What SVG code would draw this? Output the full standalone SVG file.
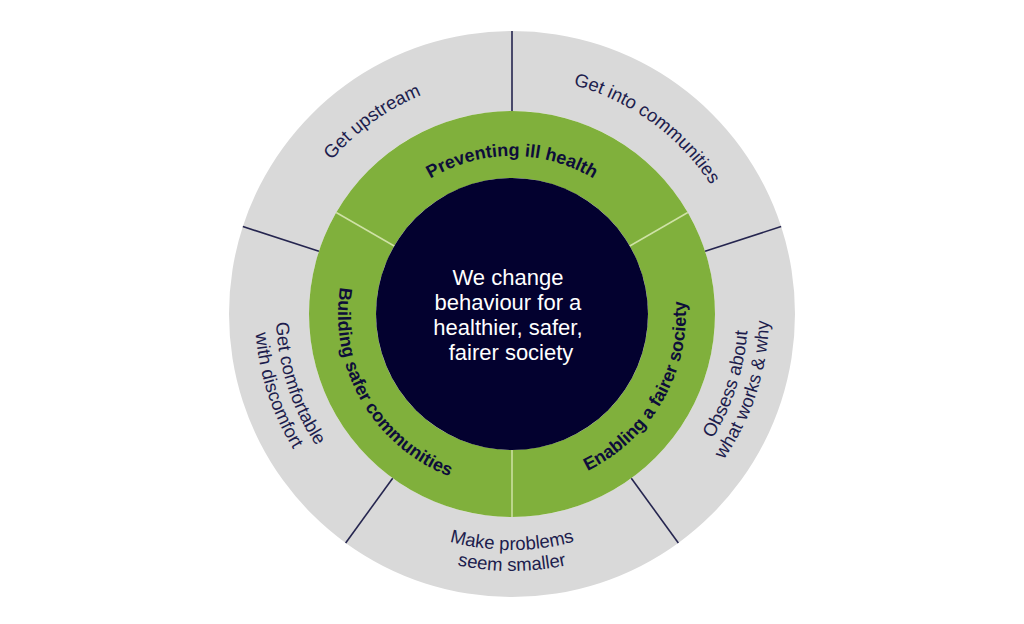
<svg xmlns="http://www.w3.org/2000/svg" xmlns:xlink="http://www.w3.org/1999/xlink" width="1024" height="624" viewBox="0 0 1024 624">
  <style>
    .outer { fill: #d9d9d9; }
    .green { fill: #80b03c; }
    .core { fill: #03012f; }
    .div-outer { stroke: #25254f; stroke-width: 1.6; fill: none; }
    .div-green { stroke: #cfe2a6; stroke-width: 1.5; fill: none; }
    .lbl-outer { font-family: "Liberation Sans", Arial, sans-serif; font-size: 18.5px; fill: #1d1d4d; }
    .lbl-green { font-family: "Liberation Sans", Arial, sans-serif; font-size: 18px; font-weight: bold; fill: #0d0d3a; }
    .lbl-core { font-family: "Liberation Sans", Arial, sans-serif; font-size: 22px; fill: #ffffff; text-anchor: middle; }
  </style>
  <defs>
    <path id="p-upstream" d="M276.30,338.77 A237,237 0 0 1 608.40,97.49"/>
    <path id="p-into" d="M415.60,97.49 A237,237 0 0 1 747.70,338.77"/>
    <path id="p-comf1" d="M336.62,156.09 A236,236 0 0 0 462.93,544.84"/>
    <path id="p-comf2" d="M321.01,142.03 A257,257 0 0 0 458.57,565.38"/>
    <path id="p-prob1" d="M307.62,432 A236,236 0 0 0 716.38,432"/>
    <path id="p-prob2" d="M289.43,442.5 A257,257 0 0 0 734.57,442.5"/>
    <path id="p-obs1" d="M561.07,544.84 A236,236 0 0 0 687.38,156.09"/>
    <path id="p-obs2" d="M565.43,565.38 A257,257 0 0 0 702.99,142.03"/>
    <path id="p-prev" d="M375.17,235 A158,158 0 0 1 648.83,235"/>
    <path id="p-build" d="M361.31,227 A174,174 0 0 0 512,488"/>
    <path id="p-enab" d="M512,488 A174,174 0 0 0 662.69,227"/>
  </defs>

  <g id="outer-get-upstream">
    <path class="outer" d="M512,31 A283,283 0 0 0 242.85,226.55 L318.93,251.27 A203,203 0 0 1 512,111 Z"/>
    <text class="lbl-outer"><textPath xlink:href="#p-upstream" startOffset="50%" text-anchor="middle">Get upstream</textPath></text>
  </g>
  <g id="outer-get-into-communities">
    <path class="outer" d="M781.15,226.55 A283,283 0 0 0 512,31 L512,111 A203,203 0 0 1 705.07,251.27 Z"/>
    <text class="lbl-outer"><textPath xlink:href="#p-into" startOffset="50%" text-anchor="middle">Get into communities</textPath></text>
  </g>
  <g id="outer-get-comfortable">
    <path class="outer" d="M242.85,226.55 A283,283 0 0 0 345.66,542.95 L392.68,478.23 A203,203 0 0 1 318.93,251.27 Z"/>
    <text class="lbl-outer"><textPath xlink:href="#p-comf1" startOffset="50%" text-anchor="middle">Get comfortable</textPath></text>
    <text class="lbl-outer"><textPath xlink:href="#p-comf2" startOffset="50%" text-anchor="middle">with discomfort</textPath></text>
  </g>
  <g id="outer-make-problems-smaller">
    <path class="outer" d="M345.66,542.95 A283,283 0 0 0 678.34,542.95 L631.32,478.23 A203,203 0 0 1 392.68,478.23 Z"/>
    <text class="lbl-outer"><textPath xlink:href="#p-prob1" startOffset="50%" text-anchor="middle">Make problems</textPath></text>
    <text class="lbl-outer"><textPath xlink:href="#p-prob2" startOffset="50%" text-anchor="middle">seem smaller</textPath></text>
  </g>
  <g id="outer-obsess">
    <path class="outer" d="M678.34,542.95 A283,283 0 0 0 781.15,226.55 L705.07,251.27 A203,203 0 0 1 631.32,478.23 Z"/>
    <text class="lbl-outer"><textPath xlink:href="#p-obs1" startOffset="50%" text-anchor="middle">Obsess about</textPath></text>
    <text class="lbl-outer"><textPath xlink:href="#p-obs2" startOffset="50%" text-anchor="middle">what works &amp; why</textPath></text>
  </g>

  <g id="green-preventing-ill-health">
    <path class="green" d="M687.80,212.5 A203,203 0 0 0 336.20,212.5 L394.22,246 A136,136 0 0 1 629.78,246 Z"/>
    <text class="lbl-green"><textPath xlink:href="#p-prev" startOffset="50%" text-anchor="middle">Preventing ill health</textPath></text>
  </g>
  <g id="green-building-safer-communities">
    <path class="green" d="M336.20,212.5 A203,203 0 0 0 512,517 L512,450 A136,136 0 0 1 394.22,246 Z"/>
    <text class="lbl-green"><textPath xlink:href="#p-build" startOffset="50%" text-anchor="middle">Building safer communities</textPath></text>
  </g>
  <g id="green-enabling-fairer-society">
    <path class="green" d="M512,517 A203,203 0 0 0 687.80,212.5 L629.78,246 A136,136 0 0 1 512,450 Z"/>
    <text class="lbl-green"><textPath xlink:href="#p-enab" startOffset="50%" text-anchor="middle">Enabling a fairer society</textPath></text>
  </g>

  <g id="core">
    <circle class="core" cx="512" cy="314" r="136"/>
    <text class="lbl-core">
      <tspan x="511" y="284.5">We change</tspan>
      <tspan x="511" y="309.5">behaviour for a</tspan>
      <tspan x="511" y="334.5">healthier, safer,</tspan>
      <tspan x="511" y="359.5">fairer society</tspan>
    </text>
  </g>

  <g id="connectors">
    <line class="div-outer" x1="512" y1="31" x2="512" y2="111"/>
    <line class="div-outer" x1="242.85" y1="226.55" x2="318.93" y2="251.27"/>
    <line class="div-outer" x1="345.66" y1="542.95" x2="392.68" y2="478.23"/>
    <line class="div-outer" x1="678.34" y1="542.95" x2="631.32" y2="478.23"/>
    <line class="div-outer" x1="781.15" y1="226.55" x2="705.07" y2="251.27"/>
    <line class="div-green" x1="336.20" y1="212.5" x2="394.22" y2="246"/>
    <line class="div-green" x1="687.80" y1="212.5" x2="629.78" y2="246"/>
    <line class="div-green" x1="512" y1="517" x2="512" y2="450"/>
  </g>
</svg>
